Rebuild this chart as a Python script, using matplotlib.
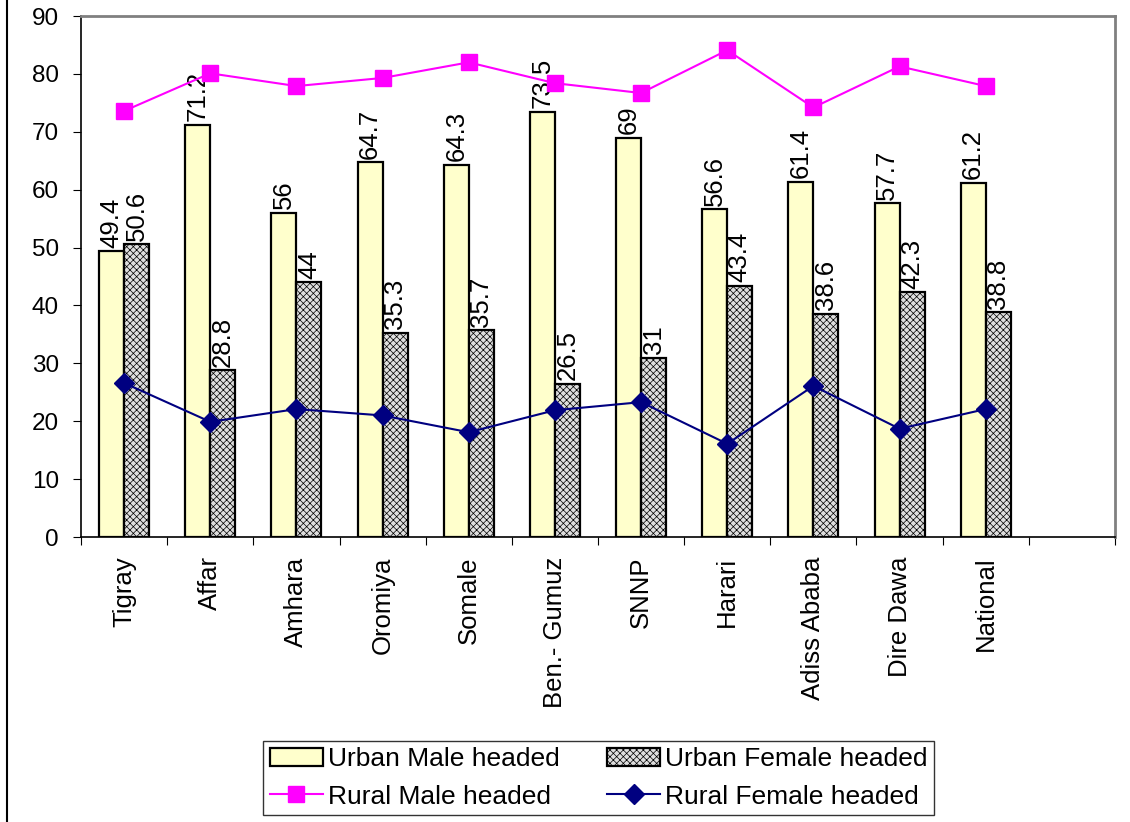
import matplotlib.pyplot as plt
import numpy as np
from matplotlib.lines import Line2D

plt.rcParams['font.family'] = ['Liberation Sans', 'DejaVu Sans']
plt.rcParams['hatch.color'] = '#a0a0a0'
plt.rcParams['hatch.linewidth'] = 0.5

regions = ['Tigray', 'Affar', 'Amhara', 'Oromiya', 'Somale', 'Ben.- Gumuz',
           'SNNP', 'Harari', 'Adiss Ababa', 'Dire Dawa', 'National']
urban_male = [49.4, 71.2, 56, 64.7, 64.3, 73.5, 69, 56.6, 61.4, 57.7, 61.2]
urban_female = [50.6, 28.8, 44, 35.3, 35.7, 26.5, 31, 43.4, 38.6, 42.3, 38.8]
rural_male = [73.6, 80.1, 77.9, 79.3, 82.0, 78.4, 76.7, 84.1, 74.2, 81.3, 77.9]
rural_female = [26.6, 19.9, 22.1, 21.0, 18.1, 21.9, 23.3, 16.1, 26.1, 18.7, 22.1]
value_labels_m = ['49.4', '71.2', '56', '64.7', '64.3', '73.5', '69', '56.6', '61.4', '57.7', '61.2']
value_labels_f = ['50.6', '28.8', '44', '35.3', '35.7', '26.5', '31', '43.4', '38.6', '42.3', '38.8']

fig = plt.figure(figsize=(11.3, 8.22), dpi=100)
ax = fig.add_axes([0.0717, 0.3467, 0.915, 0.6338])

x = np.arange(len(regions))
w = 0.29
ax.bar(x - w / 2, urban_male, w, color='#ffffcc', edgecolor='black', linewidth=1.6)
ax.bar(x + w / 2, urban_female, w, color='#dedede', edgecolor='black', linewidth=1.6,
       hatch='xxxxx')
ax.plot(x, rural_male, color='#ff00ff', lw=1.5, marker='s', ms=12, zorder=5)
ax.plot(x, rural_female, color='#000080', lw=1.5, marker='D', ms=10, zorder=5)

for xi, v, t in zip(x, urban_male, value_labels_m):
    ax.text(xi - w / 2, v + 0.6, t, rotation=90, ha='center', va='bottom', fontsize=18.5)
for xi, v, t in zip(x, urban_female, value_labels_f):
    ax.text(xi + w / 2, v + 0.6, t, rotation=90, ha='center', va='bottom', fontsize=18.5)

ax.set_xlim(-0.5, 11.5)
ax.set_ylim(0, 90)
ax.set_yticks(range(0, 91, 10))
ax.tick_params(axis='y', labelsize=17.5, length=6, direction='out', pad=10)
ax.set_xticks(np.arange(-0.5, 12, 1))
ax.set_xticklabels([])
ax.tick_params(axis='x', length=6, direction='out')
ax.set_xticks(x, minor=True)
ax.set_xticklabels(regions, minor=True, rotation=90, fontsize=18.5)
ax.tick_params(axis='x', which='minor', length=0, pad=14)

for s in ['top', 'right']:
    ax.spines[s].set_color('#808080')
    ax.spines[s].set_linewidth(2)
for s in ['left', 'bottom']:
    ax.spines[s].set_color('black')
    ax.spines[s].set_linewidth(1.2)

handles = [
    plt.Rectangle((0, 0), 1, 1, facecolor='#ffffcc', edgecolor='black', linewidth=1.6),
    Line2D([], [], color='#ff00ff', lw=1.5, marker='s', ms=12),
    plt.Rectangle((0, 0), 1, 1, facecolor='#dedede', edgecolor='black', linewidth=1.6, hatch='xxxxx'),
    Line2D([], [], color='#000080', lw=1.5, marker='D', ms=10),
]
labels = ['Urban Male headed', 'Rural Male headed', 'Urban Female headed', 'Rural Female headed']
leg = fig.legend(handles, labels, ncol=2, loc='center', bbox_to_anchor=(0.530, 0.0535),
                 fontsize=19, frameon=True, fancybox=False, edgecolor='black',
                 handlelength=2.0, handletextpad=0.2, columnspacing=1.8, labelspacing=0.5,
                 borderpad=0.25)
leg.get_frame().set_linewidth(1.0)

fig.add_artist(Line2D([0.006, 0.006], [0, 1], color='black', lw=1.5, transform=fig.transFigure))

fig.savefig('out.png', dpi=100)
